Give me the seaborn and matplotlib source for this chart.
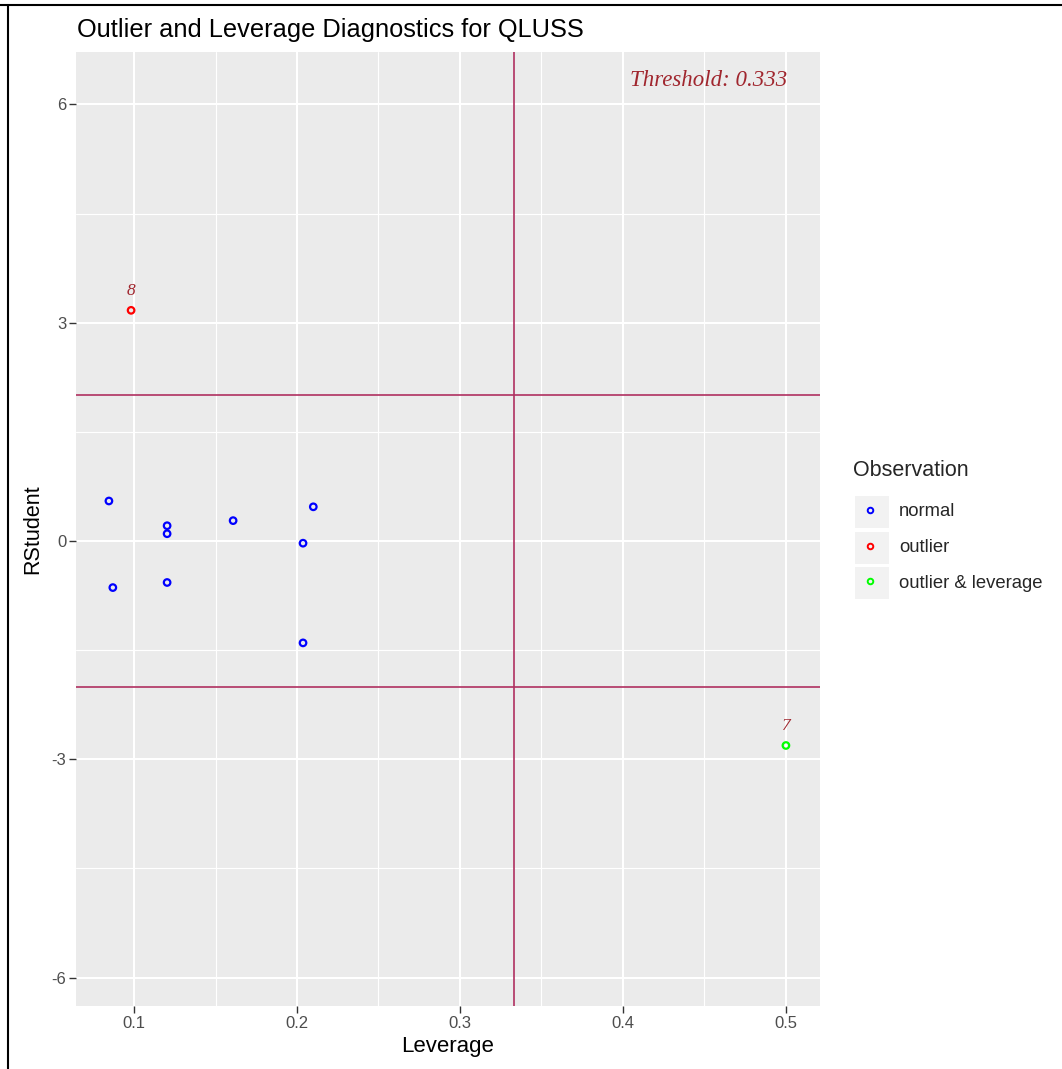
import matplotlib
matplotlib.use("Agg")
import matplotlib.pyplot as plt
import seaborn as sns
import pandas as pd
import numpy as np
from matplotlib.lines import Line2D
from matplotlib.patches import Rectangle

# ---- data ----
obs_id = [1, 2, 3, 4, 5, 6, 9, 10, 11, 8, 7]
leverage = [0.0846, 0.0870, 0.1203, 0.1203, 0.1203, 0.1608, 0.2100, 0.2037, 0.2037, 0.0982, 0.5000]
rstudent = [0.55, -0.64, 0.21, 0.10, -0.57, 0.28, 0.47, -0.03, -1.40, 3.17, -2.81]
observation = ["normal"] * 9 + ["outlier", "outlier & leverage"]
categories = ["normal", "outlier", "outlier & leverage"]
palette = {"normal": "#0000FF", "outlier": "#FF0000", "outlier & leverage": "#00FF00"}
threshold = 0.333
rs_cut = [-2, 2]
x_ticks = [0.1, 0.2, 0.3, 0.4, 0.5]
y_ticks = [-6, -3, 0, 3, 6]

df = pd.DataFrame({"id": obs_id, "Leverage": leverage, "RStudent": rstudent,
                   "Observation": observation})

sns.set_theme(style="darkgrid")
plt.rcParams['font.family'] = ['Liberation Sans', 'DejaVu Sans']

fig = plt.figure(figsize=(10.62, 10.69), dpi=100)
fig.patch.set_facecolor("white")
ax = fig.add_axes([76/1062, 1-1006/1069, (820-76)/1062, (1006-52)/1069])
ax.set_facecolor("#EBEBEB")

# grid
ax.set_xlim(0.0644, 0.5209)
ax.set_ylim(-6.39, 6.72)
ax.set_xticks(x_ticks)
ax.set_yticks(y_ticks)
ax.set_xticks([0.15, 0.25, 0.35, 0.45], minor=True)
ax.set_yticks([-4.5, -1.5, 1.5, 4.5], minor=True)
ax.grid(which="major", color="white", linewidth=1.5)
ax.grid(which="minor", color="white", linewidth=0.8)
ax.set_axisbelow(True)
for s in ax.spines.values():
    s.set_visible(False)

# reference lines
ax.axvline(threshold, color="#B03060", linewidth=1.2, zorder=2)
for h in rs_cut:
    ax.axhline(h, color="#B03060", linewidth=1.2, zorder=2)

sns.scatterplot(data=df, x="Leverage", y="RStudent", hue="Observation",
                hue_order=categories, palette=palette, s=22, linewidth=1.6,
                ax=ax, legend=False, zorder=3)
coll = ax.collections[-1]
fc = coll.get_facecolors()
coll.set_edgecolors(fc)
coll.set_facecolors("none")

# labels for flagged points
for _, r in df[df["Observation"] != "normal"].iterrows():
    ax.text(r["Leverage"], r["RStudent"] + 0.27, str(r["id"]), ha="center", va="center",
            fontsize=12.5, color="#A0262E", family="Liberation Serif", style="italic")

ax.text(0.5006, 6.33, f"Threshold: {threshold:.3f}", ha="right", va="center",
        fontsize=16.5, color="#A0262E", family="Liberation Serif", style="italic")

ax.tick_params(axis="both", which="major", length=5, width=1, color="#333333",
               labelcolor="#4D4D4D", labelsize=12, pad=2)
ax.tick_params(which="minor", length=0)
ax.xaxis.set_tick_params(bottom=True)
ax.yaxis.set_tick_params(left=True)
ax.set_xticklabels([f"{v:g}" for v in x_ticks])
ax.set_yticklabels([f"{v:g}" for v in y_ticks])
ax.set_xlabel("Leverage", fontsize=16, color="black", labelpad=4)
ax.set_ylabel("RStudent", fontsize=15.5, color="black", labelpad=6)

fig.text(77/1062, 1-30/1069, "Outlier and Leverage Diagnostics for QLUSS",
         ha="left", va="center", fontsize=18.3, color="black")

# legend (ggplot style)
fig.text(853/1062, 1-471/1069, "Observation", ha="left", va="center", fontsize=15.5)
key_top = 496
for i, cat in enumerate(categories):
    y0 = key_top + i * 35.5
    fig.patches.append(Rectangle((855/1062, 1-(y0+32)/1069), 34/1062, 32/1069,
                                 transform=fig.transFigure, facecolor="#F2F2F2",
                                 edgecolor="none"))
    fig.lines.append(Line2D([870/1062], [1-(y0+14)/1069], transform=fig.transFigure,
                            marker="o", markersize=4, markerfacecolor="none",
                            markeredgecolor=palette[cat], markeredgewidth=1.4,
                            linestyle="none"))
    fig.text(899/1062, 1-(y0+16)/1069, cat, ha="left", va="center", fontsize=13.3)

# outer border (top and left)
fig.lines.append(Line2D([0, 1], [1-5/1069, 1-5/1069], transform=fig.transFigure,
                        color="black", linewidth=1.5))
fig.lines.append(Line2D([8/1062, 8/1062], [0, 1-5/1069], transform=fig.transFigure,
                        color="black", linewidth=1.5))

fig.savefig("out.png", dpi=100)
